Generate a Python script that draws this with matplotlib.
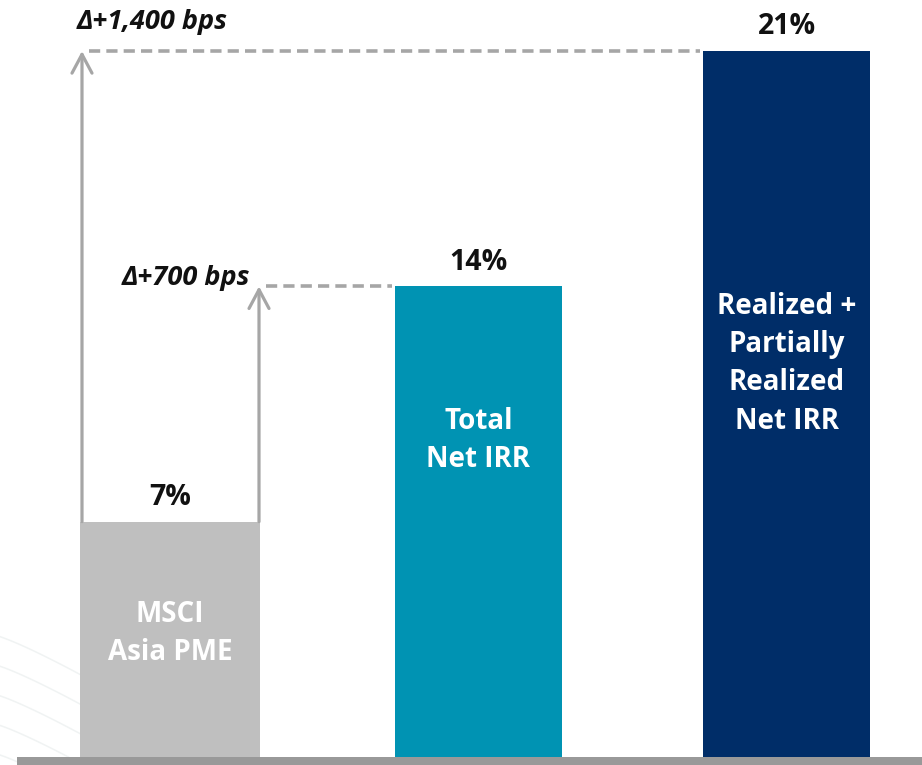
import numpy as np
import matplotlib.pyplot as plt
from matplotlib.patches import Rectangle

plt.rcParams['font.family'] = ['Open Sans', 'DejaVu Sans']

# Data
categories = ["MSCI\nAsia PME", "Total\nNet IRR", "Realized +\nPartially\nRealized\nNet IRR"]
irr_values = [7, 14, 21]
value_labels = ["7%", "14%", "21%"]
spread_labels = ["\u0394+700 bps", "\u0394+1,400 bps"]

bar_colors = ["#BFBFBF", "#0093B3", "#002D68"]
bar_widths = [0.584, 0.542, 0.542]
arrow_grey = "#A6A6A6"

W, H, DPI = 922, 765, 100
fig = plt.figure(figsize=(W / DPI, H / DPI), dpi=DPI)
ax = fig.add_axes([0, 0, 1, 1])

# pixel-based layout helpers for the axes limits
px_per_x = 308.25
x0_px = 170.0
px_per_y = 33.62
base_px = 757.0
ax.set_xlim(-x0_px / px_per_x, (W - x0_px) / px_per_x)
ax.set_ylim(-(H - base_px) / px_per_y, base_px / px_per_y)
ax.axis("off")

xpos = np.arange(len(categories))

# faint decorative arcs in the lower-left background
for k in range(5):
    t = np.linspace(-0.56, -0.28, 60)
    yy = 3.6 - 0.88 * k - 5.2 * (t + 0.56) ** 1.15
    ax.plot(t, yy, color="#F0F3F3", lw=1.1, zorder=0)

bars = ax.bar(xpos, irr_values, width=bar_widths, color=bar_colors, zorder=2)

# baseline
ax.add_patch(Rectangle((-x0_px / px_per_x + 17 / px_per_x, ax.get_ylim()[0]),
                       (W - 17) / px_per_x, -ax.get_ylim()[0],
                       color="#999999", lw=0, zorder=3))

# value labels above bars
for x, v, lab in zip(xpos, irr_values, value_labels):
    ax.annotate(lab, (x, v), xytext=(0, 7), textcoords="offset points",
                ha="center", va="bottom", fontsize=20.5, fontweight="bold",
                color="#111111")

# category names inside bars
inner_y = [3.68, 9.42, 11.7]
for x, y, name in zip(xpos, inner_y, categories):
    ax.text(x, y, name, ha="center", va="center", fontsize=20,
            fontweight="bold", color="white", linespacing=1.42, zorder=4)

# spread arrows from the benchmark bar
gray_left = xpos[0] - bar_widths[0] / 2 + 2 / px_per_x
gray_right = xpos[0] + bar_widths[0] / 2 - 1 / px_per_x
arrow_x = [gray_right, gray_left]
targets = [irr_values[1], irr_values[2]]
dash_end = [xpos[1] - bar_widths[1] / 2 - 3 / px_per_x,
            xpos[2] - bar_widths[2] / 2 - 3 / px_per_x]

for ax_x, tgt, dend in zip(arrow_x, targets, dash_end):
    ax.annotate("", xy=(ax_x, tgt), xytext=(ax_x, irr_values[0]),
                arrowprops=dict(arrowstyle="->,head_length=1.35,head_width=0.72",
                                color=arrow_grey, lw=2.3, shrinkA=0, shrinkB=0),
                zorder=3)
    ax.plot([ax_x + 7 / px_per_x, dend], [tgt, tgt], color=arrow_grey, lw=2.6,
            linestyle=(0, (3.1, 1.7)), solid_capstyle="butt", zorder=1)

ax.annotate(spread_labels[0], (arrow_x[0], targets[0]), xytext=(-6, 6),
            textcoords="offset points", ha="right", va="center", fontsize=19.5,
            fontweight="bold", fontstyle="italic", color="#111111")
ax.annotate(spread_labels[1], (arrow_x[1], targets[1]), xytext=(-4, 21),
            textcoords="offset points", ha="left", va="center", fontsize=19.5,
            fontweight="bold", fontstyle="italic", color="#111111")

fig.savefig("out.png", dpi=DPI)
